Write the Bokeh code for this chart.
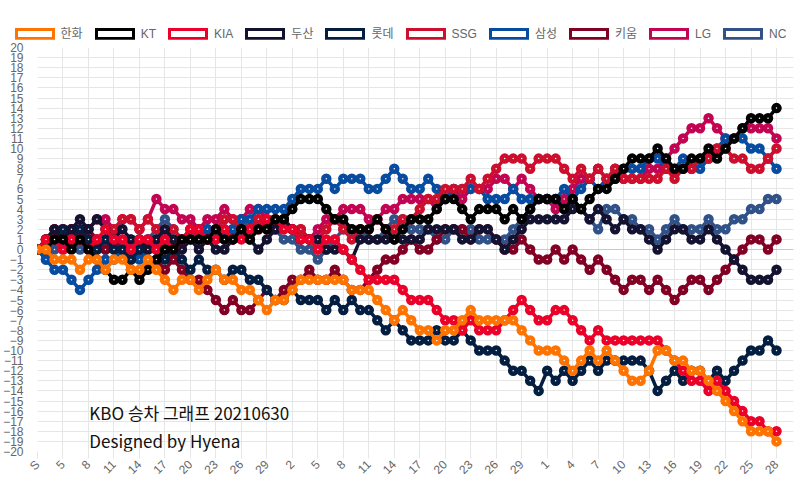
import math
from bokeh.plotting import figure
from bokeh.layouts import column
from bokeh.models import Range1d, FixedTicker, Label, Span, Div
from bokeh.embed import file_html
from bokeh.resources import INLINE

teams = ["한화", "KT", "KIA", "두산", "롯데", "SSG", "삼성", "키움", "LG", "NC"]
colors = ["#FF7300", "#000000", "#EA0029", "#131230", "#041E42",
          "#CE0E2D", "#074CA1", "#820024", "#C30452", "#315288"]

x_labels = ["S", "5", "8", "11", "14", "17", "20", "23", "26", "29",
            "2", "5", "8", "11", "14", "17", "20", "23", "26", "29",
            "1", "4", "7", "10", "13", "16", "19", "22", "25", "28"]

hanwha = [0,0,-1,-1,-1,-2,-1,-1,-2,-1, -1,-2,-2,-1,-2,-3,-4,-3,-3,-4,
          -3,-2,-3,-3,-4,-4,-5,-6,-5,-5, -4,-3,-3,-3,-3,-3,-3,-4,-4,-4,
          -5,-6,-7,-6,-7,-8,-8,-9,-8,-8, -7,-6,-7,-7,-7,-7,-7,-8,-9,-10,
          -10,-10,-11,-12,-11,-10,-11,-10,-11,-12, -13,-13,-12,-10,-10,-11,-11,-12,-12,-13,
          -14,-15,-16,-17,-18,-18,-18,-19]
kt = [0,0,1,1,0,1,0,-1,-2,-3, -3,-2,-3,-2,-1,0,0,1,1,1,
      1,2,1,1,2,1,2,2,3,3, 4,5,5,5,4,3,3,2,2,2,
      3,2,1,2,3,3,3,4,5,5, 4,3,4,4,4,3,4,3,4,5,
      5,5,4,5,4,5,6,6,7,8, 9,9,9,10,9,8,8,9,9,10,
      9,10,11,12,13,13,13,14]
kia = [0,1,1,0,1,1,0,1,2,1, 1,0,1,1,0,1,0,1,2,2,
       1,1,2,1,1,2,2,3,3,2, 2,1,1,0,1,1,0,-1,-2,-3,
       -3,-3,-3,-4,-5,-5,-5,-6,-7,-7, -8,-7,-8,-8,-8,-7,-6,-5,-6,-7,
       -7,-6,-6,-7,-8,-9,-8,-9,-9,-9, -9,-9,-9,-9,-10,-11,-12,-13,-13,-14,
       -13,-14,-15,-16,-17,-17,-18,-18]
doosan = [0,1,2,1,2,3,2,3,2,1, 2,1,1,0,1,2,1,0,1,0,
          1,0,0,1,2,1,0,1,2,3, 2,1,1,1,0,0,0,-1,1,1,
          1,1,1,1,1,1,2,2,2,2, 1,1,2,2,1,0,1,2,3,3,
          3,3,3,4,4,3,4,3,2,3, 2,2,1,0,1,2,2,1,1,2,
          1,0,-1,-2,-3,-3,-3,-2]
lotte = [0,1,1,2,1,2,1,0,1,0, 0,-1,0,1,0,-1,0,-1,-2,-1,
         -2,-2,-3,-2,-2,-3,-3,-4,-5,-5, -4,-5,-5,-5,-6,-5,-6,-5,-6,-6,
         -7,-8,-7,-8,-9,-9,-9,-8,-9,-9, -8,-9,-10,-10,-10,-11,-12,-12,-13,-14,
         -12,-13,-12,-13,-12,-11,-12,-11,-11,-11, -11,-11,-12,-14,-13,-12,-13,-12,-12,-13,
         -12,-13,-12,-11,-10,-10,-9,-10]
ssg = [0,1,2,2,1,2,1,0,1,2, 3,3,2,3,2,1,2,1,2,1,
       1,2,3,3,2,2,3,2,3,3, 2,2,1,1,2,3,2,1,2,2,
       3,2,2,3,3,4,5,5,6,6, 6,7,6,7,8,9,9,9,8,9,
       9,9,8,7,8,7,8,7,8,7, 7,7,7,7,8,7,8,8,9,9,
       10,10,9,9,8,8,9,10]
samsung = [0,-1,-2,-2,-3,-4,-3,-2,-1,-1, 0,0,-1,0,1,1,0,1,2,2,
           2,1,2,2,3,3,4,4,4,4, 5,6,6,6,7,6,7,7,7,6,
           6,7,8,7,6,6,7,6,5,6, 6,6,6,5,5,5,6,5,5,5,
           5,5,6,5,6,7,6,7,7,8, 8,8,9,9,8,8,9,8,8,9,
           10,11,11,11,10,10,9,8]
kiwoom = [0,1,2,2,2,1,2,1,0,1, 0,-1,0,-1,-1,-2,-1,-2,-3,-3,
          -4,-5,-6,-5,-6,-6,-5,-4,-5,-4, -3,-3,-2,-3,-3,-2,-3,-4,-4,-3,
          -2,-1,-1,0,1,0,0,1,2,2, 2,1,2,2,1,0,0,1,0,-1,
          -1,0,-1,0,-1,-2,-1,-2,-3,-4, -3,-3,-4,-3,-4,-5,-4,-3,-3,-4,
          -3,-2,-1,0,1,1,0,1]
lg = [0,1,1,2,2,1,2,3,3,2, 3,3,2,3,5,4,4,3,3,2,
      3,3,4,3,3,4,4,3,2,3, 2,2,1,2,3,3,4,4,4,3,
      3,4,4,5,5,5,5,4,5,6, 5,6,6,6,7,7,6,7,6,5,
      5,4,5,6,7,7,8,7,8,7, 7,7,8,8,9,10,11,12,12,13,
      12,11,11,12,12,12,12,11]
nc = [0,-1,0,0,1,0,1,1,0,1, 0,1,0,1,2,3,2,1,2,1,
      2,2,1,2,3,2,3,3,2,1, 1,0,0,-1,0,1,2,2,2,1,
      1,2,3,3,2,2,2,1,1,2, 2,2,1,1,1,1,2,3,4,5,
      5,5,4,5,4,3,2,4,4,3, 3,2,2,1,2,3,2,2,2,3,
      2,2,3,3,4,4,5,5]

series = [hanwha, kt, kia, doosan, lotte, ssg, samsung, kiwoom, lg, nc]
n_cat = 90  # Apr 2 .. Jun 30

# ---------- legend strip (HTML) ----------
item_html = "".join(
    '<span style="display:inline-flex;align-items:center;margin:0 6px;">'
    '<span style="display:inline-block;box-sizing:border-box;width:40px;height:12px;'
    'border:3px solid {c};background:#fff;margin-right:6px;"></span>{t}</span>'.format(c=c, t=t)
    for t, c in zip(teams, colors))
legend_div = Div(
    text='<div style="width:801px;padding-top:17px;display:flex;justify-content:center;'
         'font-family:\'Liberation Sans\',\'Noto Sans CJK KR\',sans-serif;font-size:12px;'
         'line-height:14px;color:#666666;white-space:nowrap;">' + item_html + '</div>',
    width=801, height=29, margin=(10, 0, 0, 0))

# ---------- main chart ----------
p = figure(width=801, height=445, output_backend="svg", toolbar_location=None,
           x_range=Range1d(0, n_cat - 1), y_range=Range1d(-20, 20),
           min_border_left=32, min_border_right=8, min_border_top=8,
           min_border_bottom=29)
p.outline_line_color = None

tick_pos = [3 * k for k in range(len(x_labels))]
p.xaxis.ticker = FixedTicker(ticks=tick_pos)
p.xaxis.major_label_overrides = {t: l for t, l in zip(tick_pos, x_labels)}
p.xaxis.major_label_orientation = math.pi / 4
p.yaxis.ticker = FixedTicker(ticks=list(range(-20, 21)))
for ax in (p.xaxis[0], p.yaxis[0]):
    ax.axis_line_color = None
    ax.minor_tick_line_color = None
    ax.major_label_text_color = "#666666"
    ax.major_label_text_font = "Liberation Sans"
    ax.major_label_text_font_size = "12px"
p.yaxis.major_tick_line_color = None
p.yaxis.major_label_standoff = 8
p.xaxis.major_tick_line_color = "#e6e6e6"
p.xaxis.major_tick_in = 0
p.xaxis.major_tick_out = 7
p.xaxis.major_label_standoff = 4
p.xgrid.grid_line_color = "#e6e6e6"
p.ygrid.grid_line_color = "#e6e6e6"
p.add_layout(Span(location=0, dimension="width", line_color="#c8c8c8", line_width=1,
                  level="underlay"))

xs = list(range(88))
for name, col, ys in reversed(list(zip(teams, colors, series))):
    p.line(xs[:len(ys)], ys, line_color=col, line_width=3.5)
    p.scatter(xs[:len(ys)], ys, size=6, line_color=col, fill_color="white",
              line_width=4.5)

p.add_layout(Label(x=6.1, y=-16.1, text="KBO 승차 그래프 20210630",
                   text_font="Noto Sans CJK KR", text_font_size="17px",
                   text_color="#111111", text_baseline="alphabetic"))
p.add_layout(Label(x=6.1, y=-18.9, text="Designed by Hyena",
                   text_font="Noto Sans CJK KR", text_font_size="17px",
                   text_color="#111111", text_baseline="alphabetic"))

open("out.html", "w").write(file_html(column(legend_div, p), INLINE))
